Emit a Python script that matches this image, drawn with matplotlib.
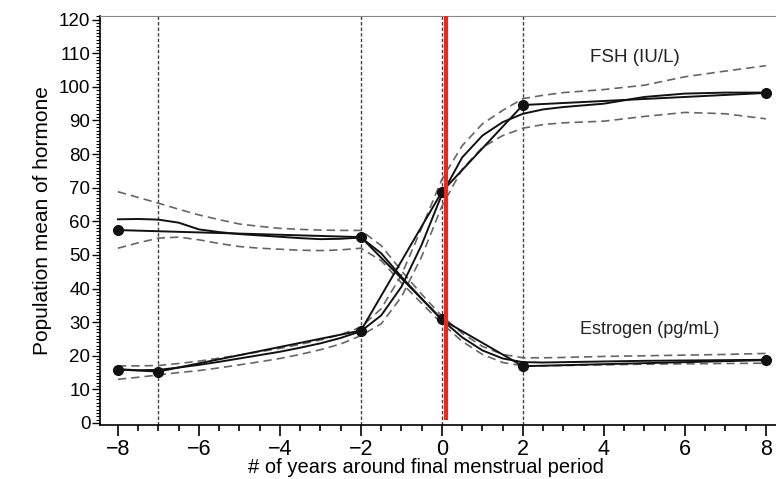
import matplotlib
matplotlib.use("Agg")
import matplotlib.pyplot as plt
from matplotlib.ticker import MultipleLocator

plt.rcParams['font.family'] = ['Liberation Sans', 'DejaVu Sans']

# observed means (dots joined by straight lines)
fsh_x = [-8, -7, -2, 0, 2, 8]
fsh_y = [15.9, 15.3, 27.5, 68.8, 94.6, 98.2]
est_x = [-8, -2, 0, 2, 8]
est_y = [57.4, 55.3, 30.8, 16.9, 18.7]

# fitted curves with confidence bands
grid = [-8, -7.5, -7, -6.5, -6, -5.5, -5, -4.5, -4, -3.5, -3, -2.5, -2,
        -1.5, -1, -0.5, 0, 0.5, 1, 1.5, 2, 2.5, 3, 4, 5, 6, 7, 8]
fsh_fit = [16.0, 15.7, 15.8, 16.5, 17.3, 18.2, 19.2, 20.2, 21.2, 22.4, 23.7, 25.3, 27.3,
           32.0, 40.5, 53.0, 68.0, 79.0, 85.5, 89.5, 92.0, 93.3, 94.0, 95.0, 97.0, 98.0, 98.3, 98.3]
fsh_hi = [17.0, 17.0, 17.1, 17.7, 18.4, 19.3, 20.2, 21.2, 22.2, 23.4, 24.7, 26.3, 28.5,
          34.0, 44.0, 58.0, 72.5, 82.5, 89.0, 93.0, 96.5, 97.5, 98.3, 99.2, 100.5, 103.0, 104.7, 106.3]
fsh_lo = [13.0, 13.6, 14.3, 15.0, 15.6, 16.4, 17.3, 18.2, 19.2, 20.4, 21.8, 23.5, 26.0,
          29.5, 37.5, 49.5, 64.5, 75.5, 82.0, 85.5, 87.7, 88.8, 89.3, 89.8, 91.2, 92.4, 92.0, 90.5]
est_fit = [60.6, 60.7, 60.5, 59.6, 57.6, 56.8, 56.2, 55.8, 55.4, 55.0, 54.7, 54.8, 55.2,
           50.5, 43.5, 37.0, 30.7, 25.5, 21.6, 19.2, 18.1, 18.0, 18.1, 18.3, 18.5, 18.6, 18.7, 18.8]
est_hi = [68.8, 67.1, 65.4, 63.6, 61.9, 60.5, 59.2, 58.5, 57.9, 57.6, 57.4, 57.3, 57.3,
          52.8, 45.3, 38.3, 31.8, 26.7, 22.8, 20.4, 19.4, 19.4, 19.5, 19.8, 20.0, 20.2, 20.4, 20.7]
est_lo = [52.0, 53.6, 55.0, 55.3, 54.5, 53.4, 52.5, 52.0, 51.7, 51.4, 51.3, 51.5, 52.0,
          48.3, 41.7, 35.6, 29.6, 24.3, 20.4, 18.0, 17.0, 17.0, 17.1, 17.3, 17.5, 17.6, 17.7, 17.8]

ref_lines = [-7, -2, 0, 2]
fmp_x = 0.09

fig = plt.figure(figsize=(7.76, 4.79), dpi=100)
ax = fig.add_axes([0.129, 0.1127, 0.871, 0.854])

for xv in ref_lines:
    ax.axvline(xv, color='#444444', lw=1.0, ls=(0, (2.5, 1.5)), zorder=1)
ax.vlines(fmp_x, 0.9, 121.1, color='#e8291c', lw=3, zorder=5)

dash = (0, (5, 3))
for hi, lo in [(fsh_hi, fsh_lo), (est_hi, est_lo)]:
    ax.plot(grid, hi, color='#666666', lw=1.2, ls=dash, zorder=2)
    ax.plot(grid, lo, color='#666666', lw=1.2, ls=dash, zorder=2)
ax.plot(grid, fsh_fit, color='#111111', lw=1.4, zorder=3)
ax.plot(grid, est_fit, color='#111111', lw=1.4, zorder=3)
ax.plot(fsh_x, fsh_y, color='#111111', lw=1.4, marker='o', ms=7, zorder=4)
ax.plot(est_x, est_y, color='#111111', lw=1.4, marker='o', ms=7, zorder=4)

ax.text(4.77, 108.6, 'FSH (IU/L)', fontsize=13.5, ha='center', va='center', color='#222222')
ax.text(5.13, 27.7, 'Estrogen (pg/mL)', fontsize=13, ha='center', va='center', color='#222222')

ax.set_xlim(-8.44, 8.25)
ax.set_ylim(-0.6, 121.1)
ax.xaxis.set_major_locator(MultipleLocator(2))
ax.xaxis.set_minor_locator(MultipleLocator(0.5))
ax.yaxis.set_major_locator(MultipleLocator(10))
ax.yaxis.set_minor_locator(MultipleLocator(1))
ax.set_xticks(range(-8, 9, 2))
ax.set_xticklabels([str(v).replace('-', '\u2212') for v in range(-8, 9, 2)])
ax.tick_params(axis='x', which='major', length=8, width=1.2, labelsize=15.5, pad=2)
ax.tick_params(axis='x', which='minor', length=4, width=1.2)
ax.tick_params(axis='y', which='major', length=6, width=1.0, labelsize=13.5, pad=1)
ax.tick_params(axis='y', which='minor', length=3, width=0.8)

ax.spines['right'].set_visible(False)
ax.spines['top'].set_color('#888888')
ax.spines['left'].set_linewidth(1.2)
ax.spines['bottom'].set_linewidth(1.2)

ax.set_xlabel('# of years around final menstrual period', fontsize=14.5, va='bottom')
ax.xaxis.set_label_coords(0.482, -0.128)
ax.set_ylabel('Population mean of hormone', fontsize=15, labelpad=5)

fig.savefig('out.png', dpi=100)
